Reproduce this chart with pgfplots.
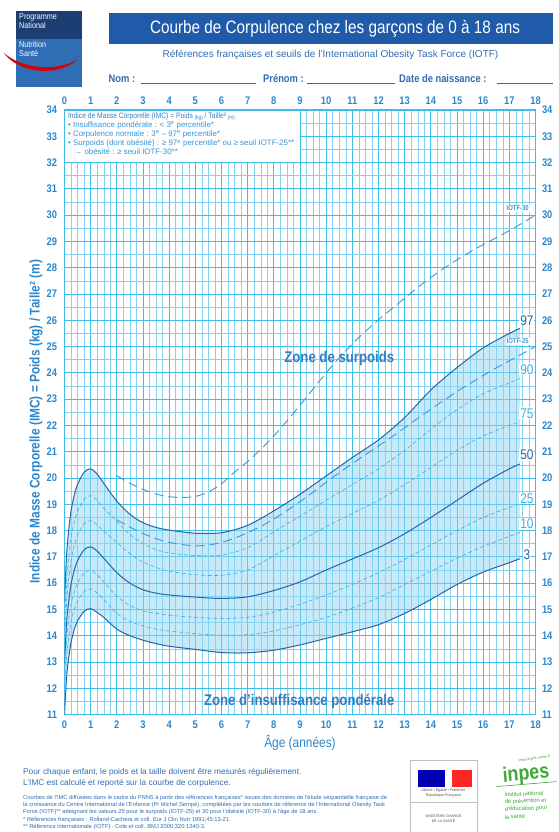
\documentclass[border=0pt]{standalone}
\usepackage{fontspec}
\setmainfont{Liberation Sans}[FakeStretch=0.85]
\newfontfamily\widefont{Liberation Sans}
\usepackage{pgfplots}
\pgfplotsset{compat=1.18}
\usepackage{pgfplotstable}
\usepgfplotslibrary{fillbetween}
\definecolor{gridmaj}{HTML}{3DBDE8}
\definecolor{gridmin}{HTML}{82D1F0}
\definecolor{ticklab}{HTML}{2A86CC}
\definecolor{bandfill}{HTML}{8FD3F2}
\definecolor{darkcurve}{HTML}{2565A8}
\definecolor{lightcurve}{HTML}{3BB0E2}
\definecolor{iotf}{HTML}{3A98D6}
\definecolor{titlebar}{HTML}{1F5BA8}
\definecolor{navy}{HTML}{1B3F73}
\definecolor{logoblue}{HTML}{2F6DB5}
\definecolor{textblue}{HTML}{2F6CB3}
\definecolor{zonecol}{HTML}{2F7FC4}
\definecolor{boxtext}{HTML}{3396D6}
\definecolor{inpesgreen}{HTML}{3DAA35}

\pgfplotstableread{
age   p3    p10   p25   p50   p75   p90   p97
0     11.0  11.8  12.4  12.9  13.6  14.3  15.3
0.08  12.42 13.2  13.84 14.48 15.28 16.07 17.07
0.17  13.23 14.0  14.66 15.38 16.24 17.08 18.09
0.25  13.75 14.52 15.19 15.96 16.86 17.73 18.75
0.375 14.24 15.0  15.68 16.5  17.44 18.34 19.36
0.5   14.56 15.32 16.01 16.86 17.82 18.74 19.76
0.75  14.93 15.68 16.38 17.27 18.26 19.2  20.22
1     15.03 15.78 16.48 17.38 18.38 19.33 20.35
1.25  14.88 15.62 16.32 17.22 18.22 19.15 20.15
1.5   14.7  15.38 16.05 16.95 17.98 18.85 19.8
2     14.25 14.85 15.5  16.4  17.55 18.35 19.12
2.5   14.0  14.55 15.15 16.0  17.12 17.85 18.62
3     13.83 14.38 14.95 15.75 16.8  17.5  18.3
3.5   13.7  14.25 14.85 15.62 16.6  17.28 18.12
4     13.6  14.18 14.78 15.55 16.45 17.15 18.02
5     13.48 14.08 14.7  15.47 16.32 17.05 17.9
6     13.36 14.02 14.66 15.42 16.3  17.07 17.92
7     13.35 14.04 14.7  15.48 16.5  17.35 18.2
8     13.45 14.18 14.9  15.72 17.05 17.95 18.75
9     13.65 14.42 15.2  16.05 17.6  18.55 19.38
10    13.9  14.7  15.55 16.5  18.15 19.15 20.08
11    14.15 15.05 15.95 16.92 18.65 19.75 20.78
12    14.42 15.45 16.4  17.35 19.15 20.35 21.45
13    14.85 15.95 16.9  17.88 19.75 21.05 22.3
14    15.38 16.45 17.45 18.5  20.4  21.85 23.35
15    15.95 16.95 18.0  19.15 21.05 22.6  24.2
16    16.42 17.4  18.5  19.8  21.6  23.2  24.95
17    16.78 17.78 18.88 20.35 22.0  23.62 25.5
17.4  16.93 17.93 19.03 20.53 22.13 23.78 25.69
}\percentiles

\pgfplotstableread{
age  i25   i30
2    18.41 20.09
2.5  18.13 19.80
3    17.89 19.57
3.5  17.69 19.39
4    17.55 19.29
4.5  17.47 19.26
5    17.42 19.30
5.5  17.45 19.47
6    17.55 19.78
6.5  17.71 20.23
7    17.92 20.63
7.5  18.16 21.09
8    18.44 21.60
8.5  18.76 22.17
9    19.10 22.77
9.5  19.46 23.39
10   19.84 24.00
10.5 20.20 24.57
11   20.55 25.10
11.5 20.89 25.58
12   21.22 26.02
12.5 21.56 26.43
13   21.91 26.84
13.5 22.27 27.25
14   22.62 27.63
14.5 22.96 27.98
15   23.29 28.30
15.5 23.60 28.60
16   23.90 28.88
16.5 24.19 29.14
17   24.46 29.41
17.5 24.73 29.70
18   25.00 30.00
}\iotftable

\begin{document}
\begin{tikzpicture}

% ---------- header ----------
\fill[navy] (-48.5pt,675.6pt) rectangle (17.5pt,703.6pt);
\fill[logoblue] (-48.5pt,627.6pt) rectangle (17.5pt,675.6pt);
\node[anchor=north west, text=white, align=left, inner sep=0pt,
      font=\fontsize{8.5}{9}\selectfont] at (-45.5pt,701.5pt) {Programme\\National};
\node[anchor=north west, text=white, align=left, inner sep=0pt,
      font=\fontsize{8.5}{9}\selectfont] at (-45.5pt,673.5pt) {Nutrition\\Santé};
\fill[red!85!black] (-61pt,662pt) .. controls (-45pt,640pt) and (-5pt,638pt) .. (13pt,655pt)
      .. controls (-8pt,643pt) and (-42pt,645pt) .. (-61pt,662pt);

\fill[titlebar] (44pt,670.1pt) rectangle (488pt,701.1pt);
\node[text=white, font=\fontsize{18}{18}\selectfont] at (270.5pt,685.6pt)
  {Courbe de Corpulence chez les garçons de 0 à 18 ans};
\node[text=textblue, font=\widefont\fontsize{10}{10}\selectfont] at (266pt,659.6pt)
  {Références françaises et seuils de l’International Obesity Task Force (IOTF)};
\node[anchor=base west, text=textblue, font=\bfseries\fontsize{11}{11}\selectfont, inner sep=0pt]
  at (44pt,631.6pt) {Nom :};
\draw[textblue, line width=0.5pt] (76pt,631.6pt) -- (191.5pt,631.6pt);
\node[anchor=base west, text=textblue, font=\bfseries\fontsize{11}{11}\selectfont, inner sep=0pt]
  at (198.5pt,631.6pt) {Prénom :};
\draw[textblue, line width=0.5pt] (242.5pt,631.6pt) -- (330.5pt,631.6pt);
\node[anchor=base west, text=textblue, font=\bfseries\fontsize{11}{11}\selectfont, inner sep=0pt]
  at (334.5pt,631.6pt) {Date de naissance :};
\draw[textblue, line width=0.5pt] (432pt,631.6pt) -- (488pt,631.6pt);

% ---------- main axis ----------
\begin{axis}[
  at={(0pt,0pt)}, anchor=south west,
  scale only axis, width=471pt, height=604.6pt,
  xmin=0, xmax=18, ymin=11, ymax=34,
  xtick={0,...,18}, ytick={11,...,34},
  minor x tick num=3, minor y tick num=1,
  grid=both,
  major grid style={gridmaj, line width=0.9pt},
  minor grid style={gridmin, line width=0.5pt},
  axis line style={gridmaj, line width=1pt},
  tick style={draw=none},
  /pgf/number format/assume math mode=true,
  ticklabel style={font=\bfseries\fontsize{11}{11}\selectfont, text=ticklab},
  xticklabel style={yshift=-3pt},
  yticklabel style={xshift=-4pt},
]
\addplot[name path=p97, draw=none, smooth, forget plot] table[x=age,y=p97]{\percentiles};
\addplot[name path=p3, draw=none, smooth, forget plot] table[x=age,y=p3]{\percentiles};
\addplot[bandfill, fill opacity=0.5, forget plot] fill between[of=p97 and p3];
\addplot[darkcurve, line width=1pt, smooth] table[x=age,y=p97]{\percentiles};
\addplot[darkcurve, line width=1pt, smooth] table[x=age,y=p3]{\percentiles};
\addplot[darkcurve, line width=1pt, smooth] table[x=age,y=p50]{\percentiles};
\addplot[lightcurve, line width=0.6pt, dash pattern=on 4pt off 2.5pt, smooth] table[x=age,y=p10]{\percentiles};
\addplot[lightcurve, line width=0.6pt, dash pattern=on 4pt off 2.5pt, smooth] table[x=age,y=p25]{\percentiles};
\addplot[lightcurve, line width=0.6pt, dash pattern=on 4pt off 2.5pt, smooth] table[x=age,y=p75]{\percentiles};
\addplot[lightcurve, line width=0.6pt, dash pattern=on 4pt off 2.5pt, smooth] table[x=age,y=p90]{\percentiles};
\addplot[iotf, line width=0.9pt, dash pattern=on 9pt off 5pt, smooth] table[x=age,y=i25]{\iotftable};
\addplot[iotf, line width=0.9pt, dash pattern=on 9pt off 5pt, smooth] table[x=age,y=i30]{\iotftable};

% info box
\fill[white] (axis cs:0,32) rectangle (axis cs:9,34);
\draw[gridmaj, line width=0.9pt] (axis cs:0,32) rectangle (axis cs:9,34);
\node[anchor=north west, align=left, inner sep=0pt, text=boxtext,
      font=\widefont\fontsize{7.9}{9.1}\selectfont] at (axis cs:0.13,33.9)
  {{\normalfont\fontsize{7.9}{9.1}\selectfont\color{ticklab}Indice de Masse Corporelle (IMC) = Poids \raisebox{-0.2ex}{\fontsize{5.5}{6}\selectfont(kg)} / Taille² \raisebox{-0.2ex}{\fontsize{5.5}{6}\selectfont(m)}}\\
   • Insuffisance pondérale : < 3\textsuperscript{e} percentile*\\
   • Corpulence normale : 3\textsuperscript{e} – 97\textsuperscript{e} percentile*\\
   • Surpoids (dont obésité) : ≥ 97\textsuperscript{e} percentile* ou ≥ seuil IOTF-25**\\
   \hspace*{0.8em}→ obésité : ≥ seuil IOTF-30**};

% curve labels
\node[fill=white, inner sep=1pt, text=darkcurve, font=\fontsize{14}{14}\selectfont] at (axis cs:17.67,26.0) {97};
\node[fill=white, inner sep=1pt, text=lightcurve, font=\fontsize{14}{14}\selectfont] at (axis cs:17.67,24.14) {90};
\node[fill=white, inner sep=1pt, text=lightcurve, font=\fontsize{14}{14}\selectfont] at (axis cs:17.67,22.46) {75};
\node[fill=white, inner sep=1pt, text=darkcurve, font=\fontsize{14}{14}\selectfont] at (axis cs:17.67,20.87) {50};
\node[fill=white, inner sep=1pt, text=lightcurve, font=\fontsize{14}{14}\selectfont] at (axis cs:17.67,19.22) {25};
\node[fill=white, inner sep=1pt, text=lightcurve, font=\fontsize{14}{14}\selectfont] at (axis cs:17.67,18.25) {10};
\node[fill=white, inner sep=1pt, text=darkcurve, font=\fontsize{14}{14}\selectfont] at (axis cs:17.67,17.1) {3};
\node[fill=white, inner sep=1pt, text=iotf, font=\bfseries\fontsize{7}{7}\selectfont] at (axis cs:17.32,25.2) {IOTF-25};
\node[fill=white, inner sep=1pt, text=iotf, font=\bfseries\fontsize{7}{7}\selectfont] at (axis cs:17.32,30.25) {IOTF-30};

% zone labels
\node[text=zonecol, font=\bfseries\fontsize{15.5}{15.5}\selectfont] at (axis cs:10.5,24.56) {Zone de surpoids};
\node[text=zonecol, font=\bfseries\fontsize{15.5}{15.5}\selectfont] at (axis cs:8.97,11.49) {Zone d’insuffisance pondérale};
\end{axis}

% ---------- duplicate tick labels on top and right ----------
\begin{axis}[
  at={(0pt,0pt)}, anchor=south west,
  scale only axis, width=471pt, height=604.6pt,
  xmin=0, xmax=18, ymin=11, ymax=34,
  xtick={0,...,18}, ytick={11,...,34},
  axis line style={draw=none},
  tick style={draw=none},
  xticklabel pos=upper, yticklabel pos=right,
  /pgf/number format/assume math mode=true,
  ticklabel style={font=\bfseries\fontsize{11}{11}\selectfont, text=ticklab},
  xticklabel style={yshift=2pt},
  yticklabel style={xshift=3pt},
]
\addplot[draw=none, mark=none, forget plot] coordinates {(0,11) (18,34)};
\end{axis}

% ---------- axis titles ----------
\node[rotate=90, text=ticklab, font=\bfseries\fontsize{14}{14}\selectfont] at (-28.5pt,293pt)
  {Indice de Masse Corporelle (IMC) = Poids (kg) / Taille² (m)};
\node[text=ticklab, font=\fontsize{14}{14}\selectfont] at (235.5pt,-28.4pt) {Âge (années)};

% ---------- footer ----------
\node[anchor=base west, inner sep=0pt, text=textblue, font=\widefont\fontsize{8.3}{8.3}\selectfont]
  at (-41.5pt,-59.4pt) {Pour chaque enfant, le poids et la taille doivent être mesurés régulièrement.};
\node[anchor=base west, inner sep=0pt, text=textblue, font=\widefont\fontsize{8.3}{8.3}\selectfont]
  at (-41.5pt,-70.4pt) {L’IMC est calculé et reporté sur la courbe de corpulence.};
\node[anchor=base west, inner sep=0pt, text=textblue, font=\widefont\fontsize{5.75}{6}\selectfont]
  at (-41.5pt,-84.4pt) {Courbes de l’IMC diffusées dans le cadre du PNNS à partir des références françaises* issues des données de l’étude séquentielle française de};
\node[anchor=base west, inner sep=0pt, text=textblue, font=\widefont\fontsize{5.75}{6}\selectfont]
  at (-41.5pt,-91.4pt) {la croissance du Centre International de l’Enfance (Pr Michel Sempé), complétées par les courbes de référence de l’International Obesity Task};
\node[anchor=base west, inner sep=0pt, text=textblue, font=\widefont\fontsize{5.75}{6}\selectfont]
  at (-41.5pt,-98.9pt) {Force (IOTF)** atteignant les valeurs 25 pour le surpoids (IOTF-25) et 30 pour l’obésité (IOTF-30) à l’âge de 18 ans.};
\node[anchor=base west, inner sep=0pt, text=textblue, font=\widefont\fontsize{5.75}{6}\selectfont]
  at (-41.5pt,-107.2pt) {* Références françaises : Rolland-Cachera et coll. Eur J Clin Nutr 1991;45:13-21.};
\node[anchor=base west, inner sep=0pt, text=textblue, font=\widefont\fontsize{5.75}{6}\selectfont]
  at (-41.5pt,-114.2pt) {** Référence internationale (IOTF) : Cole et coll. BMJ 2000;320:1240-3.};

% Ministry logo
\draw[black!25, line width=0.5pt] (345.5pt,-125pt) rectangle (412.8pt,-45.4pt);
\fill[blue!70!black] (353.5pt,-72.4pt) rectangle (380.5pt,-55.4pt);
\fill[red!85] (387.5pt,-72.4pt) rectangle (407.5pt,-55.4pt);
\node[inner sep=0pt, font=\widefont\fontsize{3.6}{4.6}\selectfont, text=black!70, align=center] at (379pt,-78pt)
  {Liberté • Égalité • Fraternité\\République Française};
\draw[black!25, line width=0.4pt] (345.5pt,-87.1pt) -- (412.8pt,-87.1pt);
\node[inner sep=0pt, font=\widefont\fontsize{3.6}{4.6}\selectfont, text=black!70, align=center] at (379pt,-104pt)
  {MINISTÈRE CHARGÉ\\DE LA SANTÉ};

% inpes logo
\node[inner sep=0pt, rotate=8, font=\widefont\fontsize{3.8}{4}\selectfont, text=inpesgreen] at (470pt,-44pt) {www.inpes.sante.fr};
\node[inner sep=0pt, rotate=5, font=\bfseries\fontsize{21}{21}\selectfont, text=inpesgreen] at (461.5pt,-60pt) {inpes};
\draw[inpesgreen, line width=0.6pt] (432pt,-72pt) -- (492pt,-67pt);
\node[anchor=west, inner sep=0pt, rotate=2, font=\widefont\fontsize{5.8}{6}\selectfont, text=inpesgreen]
  at (440pt,-80pt) {institut national};
\node[anchor=west, inner sep=0pt, rotate=2, font=\widefont\fontsize{5.8}{6}\selectfont, text=inpesgreen]
  at (440pt,-87.5pt) {de prévention et};
\node[anchor=west, inner sep=0pt, rotate=2, font=\widefont\fontsize{5.8}{6}\selectfont, text=inpesgreen]
  at (440pt,-95pt) {d’éducation pour};
\node[anchor=west, inner sep=0pt, rotate=2, font=\widefont\fontsize{5.8}{6}\selectfont, text=inpesgreen]
  at (440pt,-102.5pt) {la santé};

\pgfresetboundingbox
\path[use as bounding box] (-64.5pt,-117.4pt) rectangle (493.5pt,714.6pt);
\end{tikzpicture}
\end{document}
